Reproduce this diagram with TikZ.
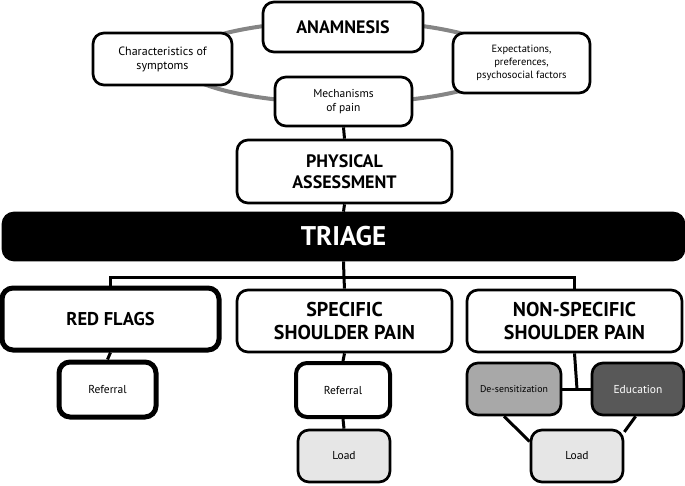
\documentclass[tikz,border=0pt]{standalone}
\usepackage{fontspec}
\setmainfont{PT Sans}
\begin{document}
\begin{tikzpicture}[x=1pt,y=-1pt,
  box/.style={draw=black, line width=2.7pt, rounded corners=11pt, fill=white, align=center, inner sep=0pt},
  thickbox/.style={box, line width=5pt},
  hdr/.style={font=\bfseries\fontsize{18}{21}\selectfont},
  big/.style={font=\bfseries\fontsize{20}{23}\selectfont},
  small/.style={font=\fontsize{11.5}{14}\selectfont},
  conn/.style={line width=3pt}]
\useasboundingbox (0,0) rectangle (685,486);
\definecolor{ringgray}{HTML}{858585}
\definecolor{lightfill}{HTML}{E6E6E6}
\definecolor{midfill}{HTML}{A8A8A8}
\definecolor{darkfill}{HTML}{585858}
\draw[ringgray, line width=4pt] (343,62) ellipse [x radius=165pt, y radius=41pt];
\node[box, hdr, minimum width=160pt, minimum height=50pt] (anam) at (343,27) {ANAMNESIS};
\node[box, small, font=\fontsize{12}{14}\selectfont, minimum width=139pt, minimum height=52pt] (char) at (162.5,59) {Characteristics of\\symptoms};
\node[box, font=\fontsize{10.5}{13}\selectfont, minimum width=137pt, minimum height=60pt] (expect) at (521.5,63) {Expectations,\\preferences,\\psychosocial factors};
\node[box, small, minimum width=137pt, minimum height=49pt] (mech) at (343.5,101.5) {Mechanisms\\of pain};
\node[box, hdr, minimum width=215pt, minimum height=63pt] (phys) at (344.5,171.5) {PHYSICAL\\ASSESSMENT};
\node[box, fill=black, text=white, font=\bfseries\fontsize{27}{31}\selectfont, minimum width=681pt, minimum height=47pt] (triage) at (343.5,236.5) {TRIAGE};
\node[thickbox, font=\bfseries\fontsize{18.5}{22}\selectfont, minimum width=217pt, minimum height=62pt] (red) at (110.5,319) {RED FLAGS};
\node[box, big, minimum width=215pt, minimum height=62pt] (spec) at (344.5,321) {SPECIFIC\\SHOULDER PAIN};
\node[box, big, minimum width=215pt, minimum height=62pt] (nonspec) at (574.5,321) {NON-SPECIFIC\\SHOULDER PAIN};
\node[thickbox, small, minimum width=97pt, minimum height=55pt] (ref1) at (107.5,389.5) {Referral};
\node[thickbox, line width=4pt, small, minimum width=94pt, minimum height=54pt] (ref2) at (343,390) {Referral};
\node[box, small, fill=lightfill, minimum width=92pt, minimum height=52pt] (load1) at (344,456) {Load};
\node[box, font=\fontsize{9.8}{12}\selectfont, fill=midfill, minimum width=94pt, minimum height=52pt] (desens) at (514,389) {De-sensitization};
\node[box, small, fill=darkfill, text=white, minimum width=92pt, minimum height=52pt] (edu) at (638,389) {Education};
\node[box, small, fill=lightfill, minimum width=92pt, minimum height=52pt] (load2) at (577,456) {Load};
\coordinate (j) at (344,278);
\coordinate (j2) at (577,389);
\draw[conn] (mech.south) -- (phys.north);
\draw[conn] (phys.south) -- (triage.north);
\draw[conn] (triage.south) -- (j);
\draw[conn] (red.north) |- (j) -| (nonspec.north);
\draw[conn] (j) -- (spec.north);
\draw[conn] (red.south) -- (ref1.north);
\draw[conn] (spec.south) -- (ref2.north);
\draw[conn] (ref2.south) -- (load1.north);
\draw[conn] (nonspec.south) -- (j2);
\draw[conn] (desens.east) -- (edu.west);
\draw[conn] (desens.-110) -- (load2.163);
\draw[conn] (edu.-95) -- (load2.27);
\end{tikzpicture}
\end{document}
